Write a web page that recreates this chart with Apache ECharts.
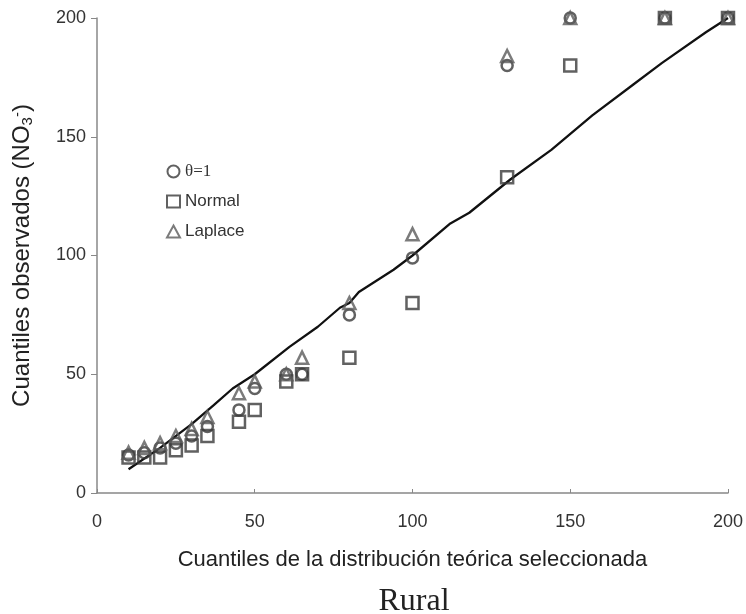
<!DOCTYPE html>
<html>
<head>
<meta charset="utf-8">
<script src="https://cdn.jsdelivr.net/npm/echarts@6/dist/echarts.min.js"></script>
<style>
html,body{margin:0;padding:0;background:#fff;}
#chart{width:746px;height:614px;}
</style>
</head>
<body>
<div id="chart"></div>
<script>
// Theoretical quantiles (x)
const quantX = [10, 15, 20, 25, 30, 35, 45, 50, 60, 65, 80, 100, 130, 150, 180, 200];
// Observed quantiles per distribution
const theta1Y  = [16, 17, 19, 21, 24, 28, 35, 44, 50, 50, 75, 99, 180, 200, 200, 200];
const normalY  = [15, 15, 15, 18, 20, 24, 30, 35, 47, 50, 57, 80, 133, 180, 200, 200];
const laplaceY = [17, 19, 21, 24, 27, 32, 42, 47, 50, 57, 80, 109, 184, 200, 200, 200];
// Reference line points
const lineX = [10, 20, 30, 37, 43, 50, 61, 70, 77, 80, 83, 94, 100, 112, 118, 131, 144, 157, 170, 179, 193, 200];
const lineY = [10, 19, 29, 37, 44, 50, 61.5, 70, 78, 80, 84.6, 94, 100, 113.5, 118, 132, 144.5, 159, 172, 181, 194, 200];
const xTicks = [0, 50, 100, 150, 200];
const yTicks = [0, 50, 100, 150, 200];

const pair = (xs, ys) => xs.map((x, i) => [x, ys[i]]);
const markColor = '#3a3a3a';

const chart = echarts.init(document.getElementById('chart'));
chart.setOption({
  animation: false,
  backgroundColor: '#fff',
  grid: { left: 97, top: 18, width: 632, height: 475 },
  title: {
    text: 'Rural',
    left: 409, top: 581, textAlign: 'center',
    textStyle: { fontFamily: 'Liberation Serif', fontSize: 32, fontWeight: 'normal', color: '#222' }
  },
  legend: {
    orient: 'vertical',
    left: 161, top: 158,
    itemGap: 13,
    itemWidth: 13, itemHeight: 12,
    data: ['θ=1', 'Normal', 'Laplace'],
    formatter: n => n === 'θ=1' ? '{s|θ=1}' : n,
    textStyle: {
      fontFamily: 'Liberation Sans', fontSize: 17, color: '#333',
      rich: { s: { fontFamily: 'Liberation Serif', fontSize: 17, color: '#333' } }
    }
  },
  xAxis: {
    type: 'value', min: 0, max: 200, interval: 50,
    name: 'Cuantiles de la distribución teórica seleccionada',
    nameLocation: 'middle', nameGap: 56,
    nameTextStyle: { fontFamily: 'Liberation Sans', fontSize: 22, color: '#222' },
    axisLine: { lineStyle: { color: '#888', width: 1.5 } },
    axisTick: { show: true, inside: true, length: 4, lineStyle: { color: '#888' } },
    axisLabel: { fontFamily: 'Liberation Sans', fontSize: 18, color: '#333', margin: 20,
      formatter: v => xTicks.includes(v) ? String(v) : '' },
    splitLine: { show: false }
  },
  yAxis: {
    type: 'value', min: 0, max: 200, interval: 50,
    name: 'Cuantiles observados (NO{sub|3}{sup|-})',
    nameLocation: 'middle', nameGap: 62,
    nameTextStyle: {
      fontFamily: 'Liberation Sans', fontSize: 24, color: '#222',
      rich: {
        sub: { fontFamily: 'Liberation Sans', fontSize: 15, color: '#222', verticalAlign: 'bottom', padding: [10, 0, 0, 0] },
        sup: { fontFamily: 'Liberation Sans', fontSize: 15, color: '#222', verticalAlign: 'top', padding: [0, 0, 10, 0] }
      }
    },
    axisLine: { show: true, lineStyle: { color: '#888', width: 1.5 } },
    axisTick: { show: true, length: 6, lineStyle: { color: '#888' } },
    axisLabel: { fontFamily: 'Liberation Sans', fontSize: 18, color: '#333', margin: 11,
      formatter: v => yTicks.includes(v) ? String(v) : '' },
    splitLine: { show: false }
  },
  series: [
    {
      name: 'line', type: 'line', data: pair(lineX, lineY), showSymbol: false, symbol: 'none',
      lineStyle: { color: '#111', width: 2.3 }, z: 1, legendHoverLink: false
    },
    {
      name: 'Normal', type: 'scatter', data: pair(quantX, normalY), symbol: 'rect', symbolSize: 12,
      itemStyle: { color: 'rgba(255,255,255,0)', borderColor: markColor, borderWidth: 2.5 }, z: 3
    },
    {
      name: 'θ=1', type: 'scatter', data: pair(quantX, theta1Y), symbol: 'circle', symbolSize: 11,
      itemStyle: { color: 'rgba(255,255,255,0)', borderColor: markColor, borderWidth: 2.5 }, z: 4
    },
    {
      name: 'Laplace', type: 'scatter', data: pair(quantX, laplaceY), symbol: 'triangle', symbolSize: 12,
      itemStyle: { color: 'rgba(255,255,255,0)', borderColor: '#5a5a5a', borderWidth: 2.5 }, z: 5
    }
  ]
});
</script>
</body>
</html>
